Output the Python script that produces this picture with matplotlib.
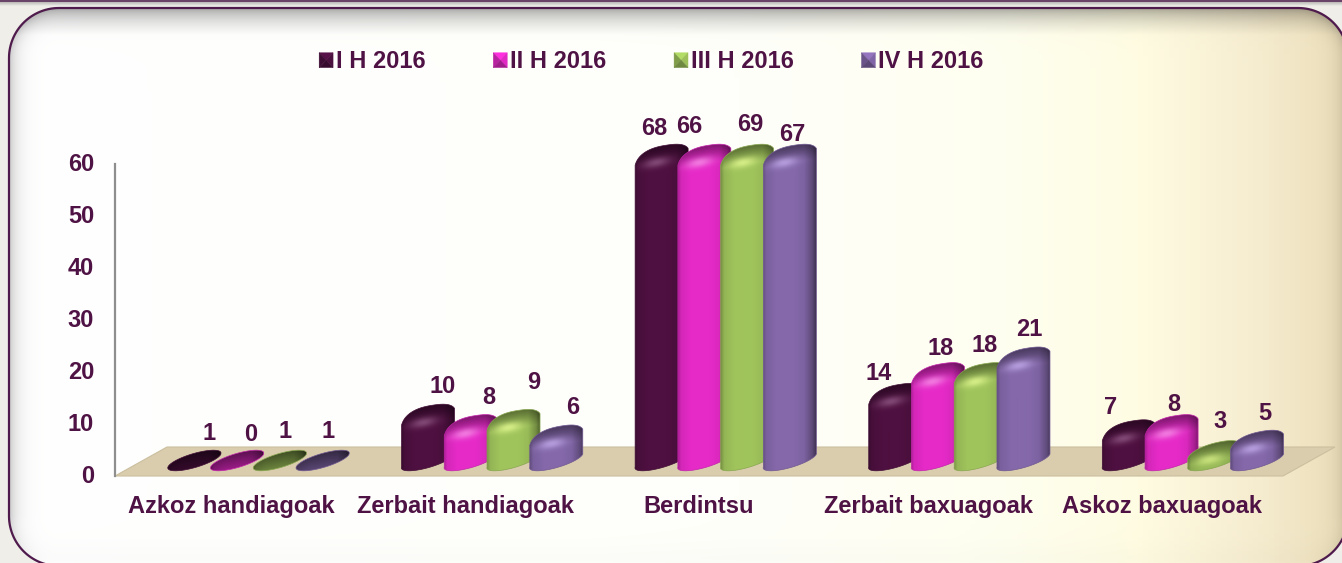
import numpy as np
import matplotlib
matplotlib.use('Agg')
import matplotlib.pyplot as plt
from matplotlib.path import Path
from matplotlib.patches import Patch, PathPatch, Polygon
from matplotlib.legend_handler import HandlerBase
from matplotlib.colors import to_rgb, LinearSegmentedColormap
from matplotlib.transforms import ScaledTranslation

categories = ['Azkoz handiagoak', 'Zerbait handiagoak', 'Berdintsu', 'Zerbait baxuagoak', 'Askoz baxuagoak']
series_names = ['I H 2016', 'II H 2016', 'III H 2016', 'IV H 2016']
h1 = [1, 10, 68, 14, 7]
h2 = [0, 8, 66, 18, 8]
h3 = [1, 9, 69, 18, 3]
h4 = [1, 6, 67, 21, 5]
yticks = [0, 10, 20, 30, 40, 50, 60]

colors = ['#4e1040', '#e62ac8', '#a0c45c', '#8468aa']
shine = ['#8c5480', '#f68ae6', '#e2f890', '#c0a8e8']
text_col = '#4f1244'

# where each number sits relative to the top of its bar (pixels)
label_dx = [[15, 14, 5, 5], [15, 18, 20, 16], [-7, -15, 3, 2], [-17, 3, 4, 6], [-18, 2, 6, 8]]
label_dy = [[17, 16, 19, 19], [18, 17, 27, 18], [16, 18, 20, 10], [10, 14, 17, 18], [12, 10, 19, 17]]
# the category names are not quite evenly spaced in the original
label_shift = [0, 0, 0, -0.017, -0.017]

W, H = 1342, 563
plt.rcParams['font.family'] = ['Liberation Sans', 'DejaVu Sans']
plt.rcParams['font.weight'] = 'bold'
fig = plt.figure(figsize=(W / 100, H / 100), dpi=100)

# ---- background panel ----
bg = fig.add_axes([0, 0, 1, 1], zorder=0)
bg.axis('off')

px, py = np.meshgrid(np.arange(W) + 0.5, np.arange(H) + 0.5)
page = np.ones((H, W, 3)) * np.array(to_rgb('#efeee9'))
fade = np.clip((py - 1) / 5, 0, 1)[..., None]
page = page * (0.72 + 0.28 * fade)
page[:2, :] = to_rgb('#6a4468')

stops = [0, 0.55, 0.75, 0.85, 0.93, 1]
tints = ['#ffffff', '#fffffa', '#fffff0', '#fffce2', '#f7eed2', '#ecdfbb']
grad = LinearSegmentedColormap.from_list('panel', list(zip(stops, tints)))
panel = grad(px / W)[..., :3]

# soft shadow just inside the rim, measured from a rounded box
L, T, R, B, rad = 9, 8, 1348, 566, 50
qx = np.abs(px - (L + R) / 2) - (R - L) / 2 + rad
qy = np.abs(py - (T + B) / 2) - (B - T) / 2 + rad
inside = -(np.hypot(np.maximum(qx, 0), np.maximum(qy, 0)) + np.minimum(np.maximum(qx, qy), 0) - rad)
side = 1 - 0.22 * np.exp(-np.maximum(inside, 0) / 8) * np.clip((B - py) / 50, 0, 1)
top = 1 - 0.17 * np.clip(1 - (py - T) / 27, 0, 1)
panel = panel * (side * top)[..., None]

# outline of the panel
arc = np.linspace(0, np.pi / 2, 30)
rx = np.r_[R - rad + rad * np.sin(arc), R - rad + rad * np.cos(arc), L + rad - rad * np.sin(arc), L + rad - rad * np.cos(arc)]
ry = np.r_[T + rad - rad * np.cos(arc), B - rad + rad * np.sin(arc), B - rad + rad * np.cos(arc), T + rad - rad * np.sin(arc)]
outline = Path(np.c_[np.r_[rx, rx[0]], np.r_[ry, ry[0]]], closed=True)

bg.imshow(page, extent=(0, W, H, 0), aspect='auto', zorder=0)
im = bg.imshow(panel, extent=(0, W, H, 0), aspect='auto', zorder=1)
bg.set_xlim(0, W)
bg.set_ylim(H, 0)
bg.add_patch(PathPatch(outline, fc='none', ec='#4f1a4c', lw=1.6, zorder=2))
im.set_clip_path(PathPatch(outline, fc='none', ec='none', transform=bg.transData))

# ---- chart ----
ax = fig.add_axes([115 / W, (H - 476) / H, 1168 / W, 312 / H], zorder=1)
ax.patch.set_alpha(0)
xmin, xmax, ymin, ymax = -0.5, 4.5, 0, 60
per_x = (xmax - xmin) / 1168
per_y = (ymax - ymin) / 312

# floor
ax.add_patch(Polygon([(xmin, 0), (xmax, 0), (xmax + 52 * per_x, 29 * per_y), (xmin + 52 * per_x, 29 * per_y)],
                     closed=True, fc='#d9cdae', ec='#cbbf9f', lw=0.8, clip_on=False, zorder=1))


def spow(c, p):
    return np.sign(c) * np.abs(c) ** p


def draw_bar(x, value, col, hi, z):
    # work in pixels around the foot of the bar, then hand data coordinates to matplotlib
    v = min(value, ymax)
    h = max(v / per_y - 6, 0)
    base = 15.5
    top_edge = base + h + 10.3

    # foot is a tilted ellipse, the cap gets rounder as the bar grows
    k = np.clip(h / 30, 0, 1)
    t = np.linspace(0, np.pi, 80)
    ca, sa = spow(np.cos(t), 1 - 0.2 * k), spow(np.sin(t), 1 - 0.2 * k)
    cap_x = np.clip(26.5 * ca + (3 + 2 * k) * sa, -26.5, 26.5)
    cap_y = (6.5 - 2.5 * k) * ca + (8 + 8 * k) * sa
    cap_y = cap_y + top_edge - cap_y.max()
    foot = np.linspace(np.pi, 2 * np.pi, 50)
    foot_x = 26.5 * np.cos(foot) + 3 * np.sin(foot)
    foot_y = base + 6.5 * np.cos(foot) + 8 * np.sin(foot)
    verts = np.c_[x + np.r_[cap_x, foot_x] * per_x, np.r_[cap_y, foot_y] * per_y]
    path = Path(np.r_[verts, verts[:1]], closed=True)

    y0, y1 = base - 12, top_edge + 3
    gx, gy = np.meshgrid(np.arange(-28, 29), np.arange(y1, y0 - 1, -1.0))
    u = gx / 26.5
    shade = np.interp(u, [-1, -0.88, -0.5, 0.2, 0.55, 0.85, 1], [0.74, 0.92, 1.0, 1.0, 0.95, 0.72, 0.5])
    # top: darker toward the back, with a small shiny spot below that
    tilt = gy - 0.18 * gx
    flat = np.clip(1 - h / 12, 0, 1)
    dark = np.clip((tilt - (top_edge - 20)) / 16, 0, 1) * 0.4
    shade = shade * (1 - dark) * (1 - 0.3 * flat)
    spot = 0.8 * np.exp(-((gx + 5) / 13) ** 2 - ((tilt - (top_edge - 18)) / 5) ** 2) * (1 - flat)
    rgb = np.clip(np.array(to_rgb(col))[None, None, :] * shade[..., None], 0, 1)
    rgb = rgb + (np.array(to_rgb(hi))[None, None, :] - rgb) * spot[..., None]

    ext = (x - 28.5 * per_x, x + 28.5 * per_x, (y0 - 0.5) * per_y, (y1 + 0.5) * per_y)
    img = ax.imshow(np.clip(rgb, 0, 1), extent=ext, aspect='auto', interpolation='bilinear', zorder=z)
    patch = PathPatch(path, transform=ax.transData, fc='none', ec='none')
    img.set_clip_path(patch)
    img.set_clip_box(fig.bbox)
    edge = np.array(to_rgb(col)) * 0.85
    ax.add_patch(PathPatch(path, fc='none', ec=edge, lw=0.5, clip_on=False, zorder=z + 0.1))
    return top_edge


table = [h1, h2, h3, h4]
for g in range(len(categories)):
    for s in range(len(series_names)):
        x = g + 0.183 * s - 0.16
        value = table[s][g]
        top_px = draw_bar(x, value, colors[s], shine[s], 3 + g * 5 + s)
        ax.annotate(str(value), (x, top_px * per_y), xycoords='data', annotation_clip=False,
                    xytext=(label_dx[g][s] * 0.72, label_dy[g][s] * 0.72), textcoords='offset points',
                    ha='center', va='center', fontsize=17, fontweight='bold', color=text_col, zorder=40)

ax.set_xlim(xmin, xmax)
ax.set_ylim(ymin, ymax)
ax.set_xticks(np.arange(len(categories)) + np.array(label_shift))
ax.set_xticklabels(categories)
ax.set_yticks(yticks)
ax.tick_params(axis='both', length=0, labelsize=17, labelcolor=text_col)
ax.tick_params(axis='y', pad=15)
ax.tick_params(axis='x', pad=14)
for lab in ax.get_yticklabels():
    lab.set_transform(lab.get_transform() + ScaledTranslation(0, 1.5 / 72, fig.dpi_scale_trans))
for name in ['top', 'right', 'bottom']:
    ax.spines[name].set_visible(False)
ax.spines['left'].set_color('#8e8e8e')
ax.spines['left'].set_linewidth(1.6)
ax.spines['left'].set_zorder(2)


# legend keys are little bevelled squares
class BevelHandler(HandlerBase):
    def create_artists(self, legend, orig_handle, xd, yd, width, height, fontsize, trans):
        col = np.array(to_rgb(orig_handle.get_facecolor()))
        x0, y0 = -xd, -yd
        x1, y1 = x0 + width, y0 + height
        mx, my = (x0 + x1) / 2, (y0 + y1) / 2
        parts = [([(x0, y1), (x1, y1), (mx, my)], 1.12),
                 ([(x0, y0), (x0, y1), (mx, my)], 0.8),
                 ([(x1, y0), (x1, y1), (mx, my)], 0.98),
                 ([(x0, y0), (x1, y0), (mx, my)], 0.7)]
        out = []
        for pts, f in parts:
            c = np.clip(col * f, 0, 1)
            out.append(Polygon(pts, closed=True, fc=c, ec=c, lw=0.3, transform=trans))
        return out


handles = [Patch(facecolor=c, label=n) for c, n in zip(colors, series_names)]
fig.legend(handles=handles, handler_map={Patch: BevelHandler()}, loc='center',
           bbox_to_anchor=(651.5 / W, 1 - 62 / H), ncol=4, frameon=False, fontsize=17,
           labelcolor=text_col, handlelength=0.59, handleheight=0.59, handletextpad=0.13,
           columnspacing=2.86, borderpad=0, borderaxespad=0)

fig.savefig('out.png', dpi=100)
